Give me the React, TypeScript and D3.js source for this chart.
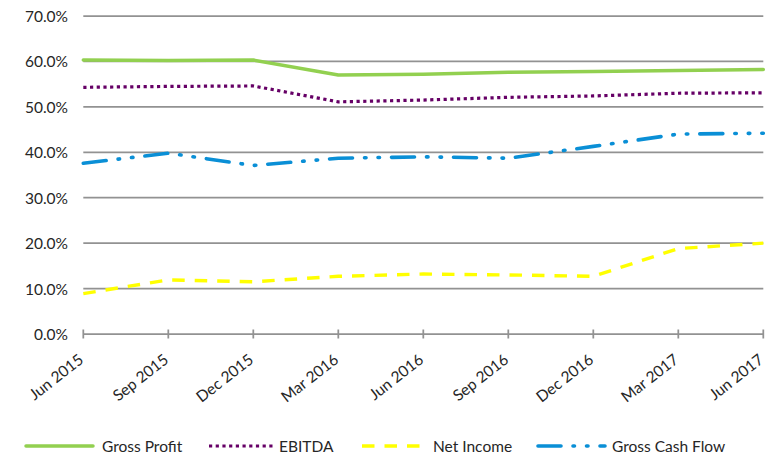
import React from "react";
import * as d3 from "d3";

const categories = ["Jun 2015", "Sep 2015", "Dec 2015", "Mar 2016", "Jun 2016", "Sep 2016", "Dec 2016", "Mar 2017", "Jun 2017"];
const grossProfit = [0.603, 0.602, 0.603, 0.570, 0.572, 0.576, 0.578, 0.580, 0.582];
const ebitda = [0.543, 0.545, 0.546, 0.511, 0.515, 0.521, 0.524, 0.530, 0.531];
const netIncome = [0.089, 0.119, 0.115, 0.127, 0.132, 0.130, 0.127, 0.188, 0.200];
const grossCashFlow = [0.376, 0.398, 0.371, 0.387, 0.390, 0.387, 0.413, 0.440, 0.442];
const yTicks = [0, 0.1, 0.2, 0.3, 0.4, 0.5, 0.6, 0.7];

const FONT = "Lato, 'Noto Sans', sans-serif";
const TEXT = "#262626";

const series = [
  { name: "Gross Profit", values: grossProfit, color: "#92D050", width: 3.5, dash: "none", cap: "round", lx: 26, tx: 102 },
  { name: "EBITDA", values: ebitda, color: "#660066", width: 3.2, dash: "3.2,3.5", cap: "butt", lx: 209, tx: 279 },
  { name: "Net Income", values: netIncome, color: "#FFFF00", width: 3.4, dash: "12.5,10", cap: "butt", lx: 362, tx: 433 },
  { name: "Gross Cash Flow", values: grossCashFlow, color: "#0A8FD6", width: 3.6, dash: "23,12,1.5,12,1.5,12", cap: "round", lx: 538, tx: 612 },
];

export default function App() {
  const W = 766, H = 457;
  const x = d3.scalePoint<string>().domain(categories).range([83.3, 763.3]);
  const y = d3.scaleLinear().domain([0, 0.7]).range([334, 16]);
  const line = d3.line<number>()
    .x((_, i) => x(categories[i]) as number)
    .y((d) => y(d))
    .curve(d3.curveLinear);
  const fmt = d3.format(".1%");

  return (
    <svg width={W} height={H} style={{ position: "absolute", left: 0, top: 0, background: "#fff" }} fontFamily={FONT}>
      {yTicks.map((t) => (
        <g key={t}>
          {t > 0 && (
            <line x1={83.3} x2={763.3} y1={y(t)} y2={y(t)} stroke="#929292" strokeWidth={1.75} />
          )}
          <text x={68} y={y(t)} textAnchor="end" dominantBaseline="central" fontSize={15.5} fill={TEXT}>
            {fmt(t)}
          </text>
        </g>
      ))}
      <line x1={83.3} x2={763.3} y1={y(0)} y2={y(0)} stroke="#929292" strokeWidth={1.75} />
      {categories.map((c) => (
        <g key={c}>
          <line x1={x(c)} x2={x(c)} y1={y(0) - 4.5} y2={y(0) + 4.5} stroke="#929292" strokeWidth={1.75} />
          <text
            transform={`translate(${(x(c) as number) - 2.5},${357}) rotate(-38)`}
            textAnchor="end"
            dominantBaseline="central"
            fontSize={15.5}
            fill={TEXT}
          >
            {c}
          </text>
        </g>
      ))}
      {series.map((s) => (
        <path
          key={s.name}
          d={line(s.values) || ""}
          fill="none"
          stroke={s.color}
          strokeWidth={s.width}
          strokeDasharray={s.dash}
          strokeLinecap={s.cap as any}
          strokeLinejoin="round"
        />
      ))}
      {series.map((s) => (
        <g key={"lg" + s.name}>
          <line
            x1={s.lx}
            x2={s.lx + 67}
            y1={446}
            y2={446}
            stroke={s.color}
            strokeWidth={s.width}
            strokeDasharray={s.dash}
            strokeLinecap={s.cap as any}
          />
          <text x={s.tx} y={446} dominantBaseline="central" fontSize={15.5} fill={TEXT}>
            {s.name}
          </text>
        </g>
      ))}
    </svg>
  );
}
